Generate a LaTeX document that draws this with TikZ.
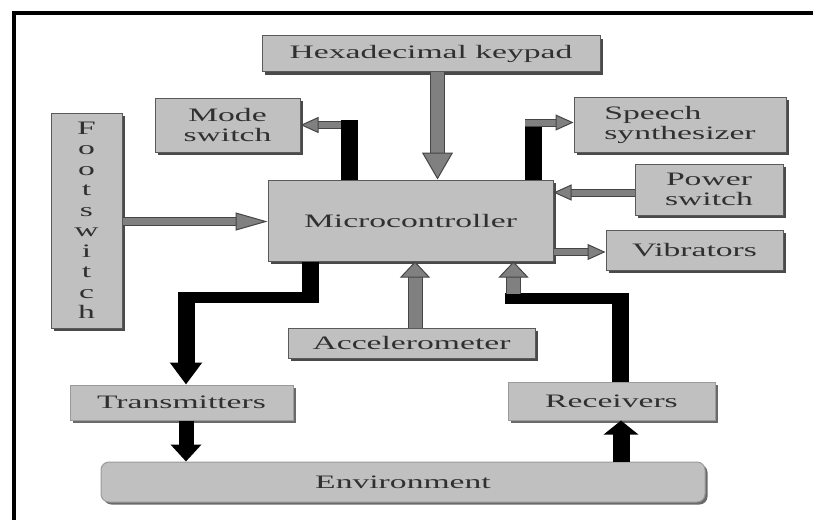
\documentclass[tikz,border=0pt]{standalone}
\usepackage{fontspec}
\setmainfont{Liberation Serif}[FakeStretch=1.77]
\usetikzlibrary{arrows.meta,shadows}
\definecolor{boxfill}{HTML}{C0C0C0}
\definecolor{boxline}{HTML}{5A5A5A}
\definecolor{shad}{HTML}{4A4A4A}
\definecolor{lshad}{HTML}{6A6A6A}
\definecolor{gfill}{HTML}{808080}
\definecolor{gline}{HTML}{454545}
\definecolor{txt}{HTML}{303030}
\definecolor{lline}{HTML}{9A9A9A}
\tikzset{
  basebox/.style={fill=boxfill, inner sep=0pt, text=txt, align=center,
    line width=1pt, font=\fontsize{19}{20}\selectfont},
  box/.style={basebox, draw=boxline,
    drop shadow={shadow xshift=3pt, shadow yshift=-3pt, fill=shad, opacity=1}},
  lbox/.style={basebox, draw=lline,
    drop shadow={shadow xshift=2.5pt, shadow yshift=-2.5pt, fill=lshad, opacity=1}},
  garrow/.style n args={5}{line width=#1, draw=gfill, line cap=butt,
    -{Triangle[length=#3, width=#4, fill=gfill, color=gline, line width=1pt]},
    preaction={draw=gline, line width=#2, arrows=-, shorten >=#5}},
  bigg/.style={garrow={13pt}{15pt}{27pt}{31pt}{24pt}},
  biggb/.style={garrow={13pt}{15pt}{16pt}{30pt}{13pt}},
  gsmall/.style={garrow={6pt}{8pt}{18pt}{16pt}{15pt}},
  gfoot/.style={garrow={7pt}{9pt}{32pt}{18pt}{29pt}},
  blkv/.style={draw=black, line width=17pt, line cap=butt},
  blkh/.style={draw=black, line width=11pt, line cap=butt},
  blkarrow/.style n args={3}{draw=black, line width=#1, line cap=butt,
    -{Triangle[length=#2, width=#3]}},
}
\begin{document}
\begin{tikzpicture}[x=1pt, y=-1pt]
\useasboundingbox (0,0) rectangle (813,520);
\fill[white] (0,0) rectangle (813,520);
% frame
\draw[line width=3.5pt, line cap=butt] (14,520) -- (14,13) -- (813,13);

% boxes
\node[box, minimum width=338pt, minimum height=36pt] (hex) at (431,53.5) {Hexadecimal keypad};
\node[box, minimum width=145pt, minimum height=54pt] (mode) at (227.5,125) {Mode\\switch};
\node[box, minimum width=71pt, minimum height=215pt, font=\fontsize{19}{20.5}\selectfont] (foot) at (86.5,220.5) {F\\o\\o\\t\\s\\w\\i\\t\\c\\h};
\node[box, minimum width=212pt, minimum height=55pt, align=left] (speech) at (680,124.5) {Speech\\synthesizer};
\node[box, minimum width=148pt, minimum height=51pt] (power) at (709,189.5) {Power\\switch};
\node[box, minimum width=177pt, minimum height=40pt] (vib) at (694.5,250) {Vibrators};
\node[box, minimum width=285pt, minimum height=81pt] (mc) at (410.5,220.5) {Microcontroller};
\node[box, minimum width=247pt, minimum height=30pt] (acc) at (411.5,343) {Accelerometer};
\node[lbox, minimum width=223pt, minimum height=35pt] (trans) at (181.5,402.5) {Transmitters};
\node[lbox, minimum width=207pt, minimum height=38pt] (recv) at (611.5,401) {Receivers};
\node[lbox, rounded corners=8pt, minimum width=604pt, minimum height=40pt] (env) at (403,482) {Environment};

% helper coordinates
\coordinate (cHex) at (437.5,0);
\coordinate (modeTop) at (349,119.5);
\coordinate (modeJ) at (341,125);
\coordinate (spTop) at (533.5,126);
\coordinate (spJ) at (525,122.5);
\coordinate (pwY) at (0,192.5);
\coordinate (vbY) at (0,252);
\coordinate (ftY) at (0,221.5);
\coordinate (tA) at (310,302.5);
\coordinate (tB) at (318.5,297);
\coordinate (tC) at (177.5,297);
\coordinate (tD) at (186,291.5);
\coordinate (cT) at (186,0);
\coordinate (cR) at (621,0);
\coordinate (rA) at (620,292.5);
\coordinate (rB) at (628.5,298);
\coordinate (rC) at (505,298);
\coordinate (rD) at (513.5,294);
\coordinate (cA) at (415,0);

% hexadecimal keypad -> microcontroller
\draw[bigg] (cHex |- hex.south) -- (cHex |- mc.north);
% microcontroller -> mode switch
\draw[blkv] (modeTop |- mc.north) -- (modeTop);
\draw[gsmall] (modeJ) -- (modeJ -| mode.east);
% microcontroller -> speech synthesizer
\draw[blkv] (spTop |- mc.north) -- (spTop);
\draw[gsmall] (spJ) -- (spJ -| speech.west);
% power switch -> microcontroller
\draw[gsmall] (power.west |- pwY) -- (mc.east |- pwY);
% microcontroller -> vibrators
\draw[gsmall] (mc.east |- vbY) -- (vib.west |- vbY);
% footswitch -> microcontroller
\draw[gfoot] (foot.east |- ftY) -- (mc.west |- ftY);
% microcontroller -> transmitters
\draw[blkv] (tA |- mc.south) -- (tA);
\draw[blkh] (tB) -- (tC);
\draw[blkarrow={17pt}{22pt}{31pt}] (tD) -- (tD |- trans.north);
% transmitters -> environment
\draw[blkarrow={15pt}{17pt}{30pt}] (cT |- trans.south) -- (cT |- env.north);
% environment -> receivers
\draw[blkarrow={17pt}{14pt}{34pt}] (cR |- env.north) -- (cR |- recv.south);
% receivers -> microcontroller
\draw[blkv] (rA |- recv.north) -- (rA);
\draw[blkh] (rB) -- (rC);
\draw[biggb] (rD) -- (rD |- mc.south);
% accelerometer -> microcontroller
\draw[biggb] (cA |- acc.north) -- (cA |- mc.south);
\end{tikzpicture}
\end{document}
